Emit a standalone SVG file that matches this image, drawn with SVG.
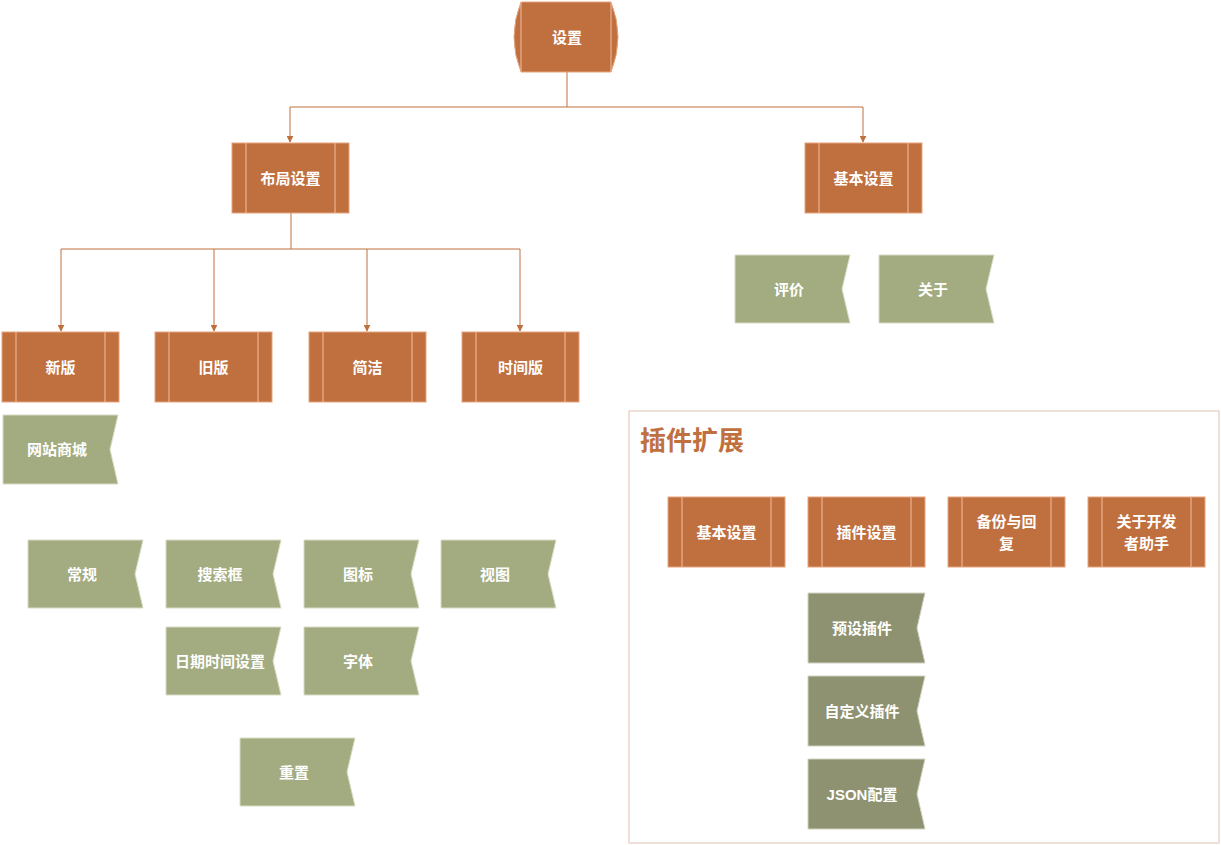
<svg xmlns="http://www.w3.org/2000/svg" width="1221" height="845" viewBox="0 0 1221 845">
<style>
.p{fill:#C0703F;stroke:#E6A47E;stroke-width:1}
.il{stroke:#EBB08F;stroke-width:1.2}
.g{fill:#A3AB80;stroke:#D8DCC6;stroke-width:1}
.d{fill:#8E9270;stroke:#D0D3C0;stroke-width:1}
.t{font-family:"Liberation Sans","Noto Sans CJK SC",sans-serif;font-size:15px;font-weight:bold;fill:#fff;text-anchor:middle;dominant-baseline:central}
.c{fill:none;stroke:#C0703F;stroke-width:1}
</style>
<defs><marker id="a" viewBox="0 0 10 10" refX="9" refY="5" markerWidth="7" markerHeight="7" orient="auto"><path d="M0,0L10,5L0,10z" fill="#C0703F"/></marker></defs>
<rect x="629" y="411" width="590" height="432" fill="#fff" stroke="#EAD6CC" stroke-width="1.5"/>
<text x="640" y="450" style="font-family:'Liberation Sans','Noto Sans CJK SC',sans-serif;font-size:26px;font-weight:bold;fill:#C0703F">插件扩展</text>
<g id="connectors">
<path class="c" d="M567,72V107M290,107H863" />
<path class="c" d="M290,107V142" marker-end="url(#a)"/>
<path class="c" d="M863,107V142" marker-end="url(#a)"/>
<path class="c" d="M291,213V249M61,249H520"/>
<path class="c" d="M61,249V331" marker-end="url(#a)"/>
<path class="c" d="M214,249V331" marker-end="url(#a)"/>
<path class="c" d="M367,249V331" marker-end="url(#a)"/>
<path class="c" d="M520,249V331" marker-end="url(#a)"/>
</g>
<g id="n-root"><path class="p" d="M521,2H611Q625,37 611,72H521Q507,37 521,2Z"/><path class="il" d="M521,2V72M611,2V72"/><text class="t" x="567" y="37">设置</text></g>
<g id="n-layout"><rect class="p" x="232" y="143" width="117" height="70"/><path class="il" d="M246,143V213M335,143V213"/><text class="t" x="290.5" y="178">布局设置</text></g>
<g id="n-basic"><rect class="p" x="805" y="143" width="117" height="70"/><path class="il" d="M819,143V213M908,143V213"/><text class="t" x="863.5" y="178">基本设置</text></g>
<g id="n-rate"><path class="g" d="M735,255H850L842,289L850,323H735Z"/><text class="t" x="789" y="289">评价</text></g>
<g id="n-about"><path class="g" d="M879,255H994L986,289L994,323H879Z"/><text class="t" x="933" y="289">关于</text></g>
<g id="n-new"><rect class="p" x="2" y="332" width="117" height="70"/><path class="il" d="M16,332V402M105,332V402"/><text class="t" x="60.5" y="367">新版</text></g>
<g id="n-old"><rect class="p" x="155" y="332" width="117" height="70"/><path class="il" d="M169,332V402M258,332V402"/><text class="t" x="213.5" y="367">旧版</text></g>
<g id="n-simple"><rect class="p" x="309" y="332" width="117" height="70"/><path class="il" d="M323,332V402M412,332V402"/><text class="t" x="367.5" y="367">简洁</text></g>
<g id="n-time"><rect class="p" x="462" y="332" width="117" height="70"/><path class="il" d="M476,332V402M565,332V402"/><text class="t" x="520.5" y="367">时间版</text></g>
<g id="n-shop"><path class="g" d="M3,415H118L110,449.5L118,484H3Z"/><text class="t" x="57" y="449.5">网站商城</text></g>
<g id="n-general"><path class="g" d="M28,540H143L135,574L143,608H28Z"/><text class="t" x="82" y="574">常规</text></g>
<g id="n-search"><path class="g" d="M166,540H281L273,574L281,608H166Z"/><text class="t" x="220" y="574">搜索框</text></g>
<g id="n-icon"><path class="g" d="M304,540H419L411,574L419,608H304Z"/><text class="t" x="358" y="574">图标</text></g>
<g id="n-view"><path class="g" d="M441,540H556L548,574L556,608H441Z"/><text class="t" x="495" y="574">视图</text></g>
<g id="n-date"><path class="g" d="M166,627H281L273,661L281,695H166Z"/><text class="t" x="220" y="661">日期时间设置</text></g>
<g id="n-font"><path class="g" d="M304,627H419L411,661L419,695H304Z"/><text class="t" x="358" y="661">字体</text></g>
<g id="n-reset"><path class="g" d="M240,738H355L347,772L355,806H240Z"/><text class="t" x="294" y="772">重置</text></g>
<g id="n-pbasic"><rect class="p" x="668" y="497" width="117" height="70"/><path class="il" d="M682,497V567M771,497V567"/><text class="t" x="726.5" y="532">基本设置</text></g>
<g id="n-pset"><rect class="p" x="808" y="497" width="117" height="70"/><path class="il" d="M822,497V567M911,497V567"/><text class="t" x="866.5" y="532">插件设置</text></g>
<g id="n-backup"><rect class="p" x="948" y="497" width="117" height="70"/><path class="il" d="M962,497V567M1051,497V567"/><text class="t" x="1006.5" y="521">备份与回</text><text class="t" x="1006.5" y="543">复</text></g>
<g id="n-dev"><rect class="p" x="1088" y="497" width="117" height="70"/><path class="il" d="M1102,497V567M1191,497V567"/><text class="t" x="1146.5" y="521">关于开发</text><text class="t" x="1146.5" y="543">者助手</text></g>
<g id="n-preset"><path class="d" d="M808,593H925L917,628L925,663H808Z"/><text class="t" x="862" y="628">预设插件</text></g>
<g id="n-custom"><path class="d" d="M808,676H925L917,711L925,746H808Z"/><text class="t" x="862" y="711">自定义插件</text></g>
<g id="n-json"><path class="d" d="M808,759H925L917,794L925,829H808Z"/><text class="t" x="862" y="794">JSON配置</text></g>
</svg>
